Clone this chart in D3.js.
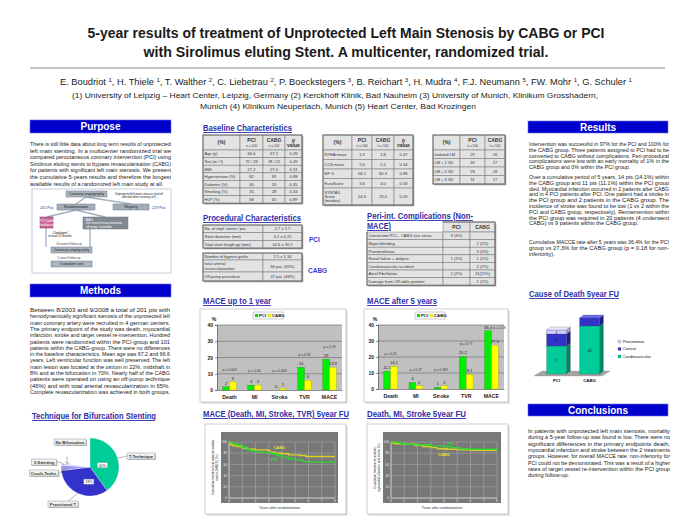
<!DOCTYPE html>
<html><head><meta charset="utf-8">
<script src="https://cdn.jsdelivr.net/npm/d3@7"></script>
<style>
html,body{margin:0;padding:0;background:#fff;}
svg{display:block;font-family:"Liberation Sans",Arial,sans-serif;}
</style></head><body>
<svg id="c" width="691" height="532"></svg>
<script>
// ---------------- DATA ----------------
const titleLines = ["5-year results of treatment of Unprotected Left Main Stenosis by CABG or PCI",
  "with Sirolimus eluting Stent.  A multicenter, randomized trial."];
const authors = [["E. Boudriot","1"],["H. Thiele","1"],["T. Walther","2"],["C. Liebetrau","2"],["P. Boeckstegers","3"],
  ["B. Reichart","3"],["H. Mudra","4"],["F.J. Neumann","5"],["FW. Mohr","1"],["G. Schuler","1"]];
const affiliations = ["(1) University of Leipzig – Heart Center, Leipzig, Germany  (2) Kerckhoff Klinik, Bad Nauheim  (3) University of Munich, Klinikum Grosshadern,",
  "Munich  (4) Klinikum Neuperlach, Munich  (5) Heart Center, Bad Krozingen"];

const purposeText = ["There is still little data about long term results of unprotected",
  "left main stenting. In a multicenter randomized trial we",
  "compared percutaneous coronary intervention (PCI) using",
  "Sirolimus eluting stents to bypass revascularisation (CABG)",
  "for patients with significant left main stenosis. We present",
  "the cumulative 5-years results and therefore the longest",
  "available results of a randomized left main study at all."];
const methodsText = ["Between 8/2003 and 9/2008 a total of 201 pts with",
  "hemodynamically significant stenosis of the unprotected left",
  "main coronary artery were recruited in 4 german centers.",
  "The primary endpoint of the study was death, myocardial",
  "infarction, stroke and target vessel re-intervention. Hundred",
  "patients were randomized within the PCI-group and 101",
  "patients within the CABG-group. There were no differences",
  "in the baseline characteristics. Mean age was 67.2 and 66.6",
  "years. Left ventricular function was well preserved. The left",
  "main lesion was located at the ostium in 22%, midshaft in",
  "8% and at the bifurcation in 70%. Nearly half of the CABG",
  "patients were operated on using an off-pump technique",
  "(46%) and with total arterial revascularization in 65%.",
  "Complete revascularization was achieved in both groups."];
const resultsText1 = ["Intervention was successful in 97% for the PCI and 100% for",
  "the CABG group. Three patients assigned to PCI had to be",
  "converted to CABG without complications.  Peri-procedural",
  "complications were low with an early mortality of 1% in the",
  "CABG group and 0% within the PCI group."];
const resultsText2 = ["Over a cumulative period of 5 years, 14 pts (14.1%) within",
  "the CABG group and 11 pts (11.1%) within the PCI group",
  "died. Myocardial infarction occurred in 2 patients after CABG",
  "and in 4 PCI patients after PCI. One patient had a stroke in",
  "the PCI group and 2 patients in the CABG group. The",
  "incidence of stroke was found to be low (1 vs 2 within the",
  "PCI and CABG group, respectively). Reintervention within",
  "the PCI group was required in 20 patients (4 underwent",
  "CABG) vs 9 patients within the CABG group."];
const resultsText3 = ["Cumulative MACCE rate after 5 years was 36.4% for the PCI",
  "group vs 27.3% for the CABG group (p = 0.18 for non-",
  "inferiority)."];
const conclText = ["In patients with unprotected left main stenosis, mortality",
  "during a 5-year follow-up was found is low. There were no",
  "significant differences in the  primary endpoints  death,",
  "myocardial infarction and stroke between the 2 treatments",
  "groups.  However, for overall MACCE rate, non-inferiority for",
  "PCI could not be demonstrated. This was a result of a higher",
  "rates of target vessel re-intervention  within the PCI group",
  "during follow-up."];

const baseHeader = ["(%)", ["PCI","n = 100"], ["CABG","n = 101"], ["p","value"]];
const baseRows1 = [["Age (y)","66.6","67.2","0.28"],["Sex (m / f)","72 / 28","78 / 22","0.49"],["BMI","27.2","27.0","0.31"],
  ["Hypertension (%)","82","83","0.88"],["Diabetes (%)","40","33","0.35"],["Smoking (%)","35","28","0.34"],["HLP (%)","68","65","0.89"]];
const baseRows2 = [["NYHA mean","1.9","1.8","0.47"],["CCS mean","2.6","2.4","0.34"],["EF %","58.1","60.3","0.88"],
  ["EuroScore","3.6","4.0","0.08"],[["SYNTAX-","Score","(median)"],"24.0","23.0","0.09"]];
const vesselHeader = ["(%)", ["PCI","n = 100"], ["CABG","n = 101"]];
const vesselRows = [["Isolated LM","29","26"],["LM + 1 VD","39","27"],["LM + 2 VD","28","28"],["LM + 3 VD","11","17"]];
const procPCI = [["No. of impl. stents / pat.","2.7  ±  1.7"],["Stent diameter (mm)","3.1  ± 0.25"],["Total stent length pp (mm)","42.6 ± 30.7"]];
const procCABG = [["Number of bypass grafts","2.5  ± 1.34"],[["total arterial","revascularization"],"66 pat. (65%)"],["Off pump procedure","47 pat. (46%)"]];
const periHeader = ["", "PCI", "CABG"];
const periRows = [["Conversion PCI – CABG vice versa","3 (3%)",""],["Major bleeding","","2 (2%)"],["Pneumothorax","","3 (3%)"],
  ["Renal failure + dialysis","1 (1%)","1 (1%)"],["Cerebrovascular accident","","2 (2%)"],["Atrial Fibrillation","2 (2%)","21(21%)"],
  ["Damage from OR table position","","1 (1%)"]];

const categories = ["Death","MI","Stroke","TVR","MACE"];
const seriesNames = ["PCI","CABG"];
const mace1yPCI  = [2, 3, 0, 14, 19];
const mace1yCABG = [5, 3, 1, 6, 13.9];
const mace1yP = ["p = 0.009","p = 1.00","p = 0.008","p = 0.35","p = 0.19"];
const mace5yPCI  = [11.1, 4, 1, 20.2, 36.4];
const mace5yCABG = [14.1, 2, 2, 9.1, 27.3];
const mace5yP = ["p = 0.21","p = 0.27","p = 0.365","p = 0.77","p = 0.18"];
const barTicks = [0, 10, 20, 30, 40];

const deathGroups = ["PCI","CABG"];
const deathCauses = ["Cardiovascular","Cancer","Pneumonia"];
const deathPCI  = [7, 3, 1];
const deathCABG = [12, 2, 0];

const pieLabels = ["T-Technique","Provisional T","Crush-Techn.","V-Stenting","No Bifurcation"];
const pieValues = [40, 33, 3, 1, 23];

const kmXTicks = [0,1,2,3,4,5,6,7,8];
const kmYTicks = [0,20,40,60,80,100];
const kmMaceCABG = [[0,100],[0.05,97],[0.15,95],[0.3,93],[0.6,92],[1.0,89],[1.4,87],[2.0,86],[2.9,85],[3.1,82],[3.5,80],[4.0,79],[4.5,77],[5.3,76],[5.8,74],[8,74]];
const kmMacePCI  = [[0,100],[0.2,98],[0.4,96],[0.7,94],[1.0,91],[1.3,87],[1.6,84],[2.0,82],[2.6,81],[3.2,79],[3.6,76],[4.0,73],[4.5,70],[5.0,68],[5.6,65],[6.2,64],[8,64]];
const kmDmsPCI   = [[0,100],[0.3,99],[0.7,97],[1.2,96],[2.0,95],[3.0,93],[3.8,92],[4.5,90],[5.2,88],[6.0,87],[8,87]];
const kmDmsCABG  = [[0,100],[0.1,98],[0.3,97],[1.0,96],[1.8,94],[2.4,92],[3.0,90],[3.5,88],[4.2,87],[5.0,86],[6.0,85],[8,85]];

// ---------------- HELPERS ----------------
const svg = d3.select("#c");
const HBLUE = "#0000cc", TBLUE = "#2e2ea6";
const GREEN = "#00ee00", YELLOW = "#ffff00";

function T(g, x, y, s, o = {}) {
  const t = g.append("text").attr("x", x).attr("y", y).text(s)
    .attr("font-size", o.size || 5).attr("fill", o.fill || "#111")
    .attr("text-anchor", o.anchor || "start");
  if (o.bold) t.attr("font-weight", "bold");
  if (o.w) t.attr("textLength", o.w).attr("lengthAdjust", "spacingAndGlyphs");
  if (o.deco) t.attr("text-decoration", o.deco);
  return t;
}
function para(lines, x, y0, lh, w, size) {
  const g = svg.append("g");
  const ts = lines.map((l, i) => T(g, x, y0 + i * lh, l, {size, fill: "#222"}));
  const lens = ts.map(t => t.node().getComputedTextLength());
  const full = lens.slice(0, -1);
  const r = full.length ? d3.mean(full.map(L => w / L)) : 1;
  ts.forEach((t, i) => {
    const L = i < ts.length - 1 ? w : Math.min(w, lens[i] * r);
    t.attr("textLength", L).attr("lengthAdjust", "spacingAndGlyphs");
  });
}
function header(x, y, w, h, s) {
  svg.append("rect").attr("x", x).attr("y", y).attr("width", w).attr("height", h).attr("fill", HBLUE)
    .attr("stroke", "#6a6aee").attr("stroke-width", 0.6);
  T(svg, x + w / 2, y + h / 2 + 3.6, s, {size: 10, bold: true, fill: "#fff", anchor: "middle"});
}
function secTitle(x, y, s, w) {
  T(svg, x, y, s, {size: 9, bold: true, fill: TBLUE, w, deco: "underline"});
}
function frame(x, y, w, h) {
  svg.append("rect").attr("x", x + 1.5).attr("y", y + 1.5).attr("width", w).attr("height", h).attr("fill", "#d4d4d4");
  svg.append("rect").attr("x", x).attr("y", y).attr("width", w).attr("height", h).attr("fill", "#fff")
    .attr("stroke", "#c4c4c4").attr("stroke-width", 0.8);
}
function table(x, y, colW, rowH, rows, hasHeader) {
  const g = svg.append("g");
  const tw = d3.sum(colW), th = d3.sum(rowH);
  g.append("rect").attr("x", x + 1.3).attr("y", y + 1.3).attr("width", tw).attr("height", th).attr("fill", "#a8a8a8");
  let cy = y;
  rows.forEach((r, ri) => {
    let cx = x;
    r.forEach((c, ci) => {
      g.append("rect").attr("x", cx).attr("y", cy).attr("width", colW[ci]).attr("height", rowH[ri])
        .attr("fill", "#e3e3e3").attr("stroke", "#808080").attr("stroke-width", 0.6);
      const isHead = hasHeader && ri === 0;
      const lines = (Array.isArray(c) ? c : [c]).filter(l => l !== "");
      const left = ci === 0 && !isHead;
      const tx = left ? cx + 1.5 : cx + colW[ci] / 2;
      if (isHead) {
        const sizes = lines.length > 1 && lines[0] !== "p" ? [5, 3.3] : [5, 5];
        const n = lines.length;
        lines.forEach((l, li) => T(g, tx, cy + rowH[ri] / 2 + (li - (n - 1) / 2) * 5 + 1.7, l,
          {size: sizes[li], bold: li === 0 || lines[0] === "p", anchor: "middle", fill: "#333"}));
      } else {
        const n = lines.length, lh = 4.3;
        lines.forEach((l, li) => T(g, tx, cy + rowH[ri] / 2 + (li - (n - 1) / 2) * lh + 1.5, l,
          {size: 4, anchor: left ? "start" : "middle", fill: "#333"}));
      }
      cx += colW[ci];
    });
    cy += rowH[ri];
  });
  g.append("rect").attr("x", x).attr("y", y).attr("width", tw).attr("height", th).attr("fill", "none")
    .attr("stroke", "#666").attr("stroke-width", 0.9);
  return g;
}

// ---------------- TITLE BLOCK ----------------
T(svg, 346, 38, titleLines[0], {size: 14, bold: true, anchor: "middle", w: 517, fill: "#1a1a1a"});
T(svg, 346, 57, titleLines[1], {size: 14, bold: true, anchor: "middle", w: 405, fill: "#1a1a1a"});
svg.append("line").attr("x1", 30).attr("x2", 665).attr("y1", 68).attr("y2", 68).attr("stroke", "#b0b0b0").attr("stroke-width", 1.5);
{
  const t = svg.append("text").attr("x", 346).attr("y", 85).attr("text-anchor", "middle").attr("font-size", 8.4).attr("fill", "#222");
  authors.forEach((a, i) => {
    t.append("tspan").attr("dy", i ? 3 : 0).text((i ? ", " : "") + a[0] + " ");
    t.append("tspan").text(a[1]).attr("font-size", 5.5).attr("dy", -3);
  });
  t.attr("textLength", 572).attr("lengthAdjust", "spacingAndGlyphs");
}
T(svg, 335, 98, affiliations[0], {size: 7.2, anchor: "middle", w: 526, fill: "#222"});
T(svg, 338, 109, affiliations[1], {size: 7.2, anchor: "middle", w: 276, fill: "#222"});

// ---------------- LEFT COLUMN ----------------
header(30, 120, 141, 13, "Purpose");
para(purposeText, 30, 146, 6.6, 141, 5.2);

// flowchart
{
  const fc = svg.append("g");
  fc.append("rect").attr("x", 32).attr("y", 189).attr("width", 139).attr("height", 84).attr("fill", "#fff")
    .attr("stroke", "#c6cade").attr("stroke-width", 1);
  const link = (a, b) => fc.append("line").attr("x1", a[0]).attr("y1", a[1]).attr("x2", b[0]).attr("y2", b[1])
    .attr("stroke", "#9fb0c2").attr("stroke-width", 1.3);
  link([86, 197], [76, 204]); link([86, 197], [131, 204]);
  link([76, 210], [47, 217]); link([76, 210], [105, 217]);
  link([46, 228], [46, 247]); link([90, 229], [90, 247]);
  const box = (x, y, w, h, fill, lines, col, stroke) => {
    fc.append("rect").attr("x", x).attr("y", y).attr("width", w).attr("height", h).attr("fill", fill)
      .attr("stroke", stroke || "#6f7a86").attr("stroke-width", 0.5);
    lines.forEach((l, i) => T(fc, x + (lines.length > 2 ? 1.5 : w / 2), y + h / 2 + (i - (lines.length - 1) / 2) * 3.4 + 1.3, l,
      {size: lines.length > 2 ? 2.9 : 3.6, anchor: lines.length > 2 ? "start" : "middle", fill: col || "#222"}));
  };
  box(66, 191, 41, 6, "#abb5bf", ["Coronary angiography"]);
  box(57, 204, 38, 6, "#a3adb8", ["Randomization"]);
  box(113, 204, 36, 6, "#a3adb8", ["Registry"]);
  box(40, 217, 13, 11, "#c9679b", ["PCI (with", "Sirolimus)"], "#fff", "#7a2a55");
  box(83, 217, 45, 12, "#818990", ["CABG:", "- full arterial revascularization", "- off pump, if possible"], "#fff");
  box(51, 247, 41, 6, "#abb5bf", ["Coronary angiography"]);
  box(51, 261, 41, 6, "#abb5bf", ["Outpatient visit"]);
  T(fc, 139, 194.5, "Unprotected left main stenosis (and all", {size: 2.8, anchor: "middle"});
  T(fc, 139, 197.8, "affected other coronary art.)", {size: 2.8, anchor: "middle"});
  T(fc, 47, 208.5, "201 Pat.", {size: 3.8, anchor: "middle", fill: "#3333aa"});
  T(fc, 159, 208.5, "229 Pat.", {size: 3.8, anchor: "middle", fill: "#3333aa"});
  T(fc, 60, 233.5, "Clopidogrel", {size: 2.9, anchor: "middle"});
  T(fc, 60, 237, "at least 12 months", {size: 2.9, anchor: "middle"});
  T(fc, 69, 244.5, "10 month Follow-up", {size: 2.9, anchor: "middle", fill: "#445"});
  T(fc, 69, 258.7, "5 years Follow-up", {size: 2.9, anchor: "middle", fill: "#445"});
}

header(30, 284, 141, 13, "Methods");
para(methodsText, 30, 312, 6.3, 140, 5.2);

secTitle(32, 419, "Technique for Bifurcation Stenting", 124);
{
  const g = svg.append("g").attr("transform", "translate(90,467)");
  const pie = d3.pie().sort(null).value(d => d)(pieValues);
  const arc = d3.arc().innerRadius(0).outerRadius(29);
  const pc = d3.scaleOrdinal().domain(pieLabels).range(["#00cc99", "#3333cc", "#9c9cee", "#c8c8ff", "#ffffff"]);
  g.selectAll("path").data(pie).join("path").attr("d", arc).attr("fill", (d, i) => pc(pieLabels[i]))
    .attr("stroke", (d, i) => i === 4 ? "none" : "#fff").attr("stroke-width", 0.3);
  const lead = (pts) => svg.append("polyline").attr("points", pts.map(p => p.join(",")).join(" "))
    .attr("fill", "none").attr("stroke", "#777").attr("stroke-width", 0.5);
  const mid = i => arc.centroid(pie[i]);
  const edge = (i, k) => { const a = (pie[i].startAngle + pie[i].endAngle) / 2; return [90 + Math.sin(a) * 29 * k, 467 - Math.cos(a) * 29 * k]; };
  lead([[127, 456], edge(0, 0.95)]);
  lead([[68, 501], edge(1, 0.95)]);
  lead([[57, 462], [62, 463], edge(3, 0.9)]);
  lead([[59, 473], edge(2, 0.75)]);
  const lbox = (cx, cy, w, s) => {
    svg.append("rect").attr("x", cx - w / 2 + 0.8).attr("y", cy - 3 + 0.8).attr("width", w).attr("height", 6).attr("fill", "#aaa");
    svg.append("rect").attr("x", cx - w / 2).attr("y", cy - 3).attr("width", w).attr("height", 6).attr("fill", "#f2f2f2")
      .attr("stroke", "#999").attr("stroke-width", 0.5);
    T(svg, cx, cy + 1.6, s, {size: 4.2, bold: true, anchor: "middle", fill: "#333"});
  };
  lbox(70, 442, 32, pieLabels[4]);
  lbox(44, 462, 25, pieLabels[3]);
  lbox(44, 473, 29, pieLabels[2]);
  lbox(141, 456, 28, pieLabels[0]);
  lbox(63, 504, 30, pieLabels[1]);
  const pbox = (p, s) => {
    svg.append("rect").attr("x", p[0] - 5).attr("y", p[1] - 2.5).attr("width", 10).attr("height", 5).attr("fill", "#fff")
      .attr("stroke", "#999").attr("stroke-width", 0.4);
    T(svg, p[0], p[1] + 1.4, s, {size: 3.6, anchor: "middle", fill: "#333"});
  };
  const m0 = mid(0), m1 = mid(1);
  pbox([90 + m0[0] * 0.9, 467 + m0[1] * 0.4], pieValues[0] + "%");
  pbox([90 + m1[0] * 0.2, 467 + m1[1] * 1.1], pieValues[1] + "%");
  T(svg, 64, 472.5, pieValues[2] + "%", {size: 3.6, anchor: "middle", fill: "#333"});
  T(svg, 67, 460, String(pieValues[3]), {size: 3.6, anchor: "middle", fill: "#333"});
  T(svg, 67, 464, "%", {size: 3.6, anchor: "middle", fill: "#333"});
}

// ---------------- MIDDLE COLUMN ----------------
secTitle(203, 131, "Baseline Characteristics", 89);
table(203, 135, [37, 23, 22, 17], [15, 7.6, 7.6, 7.6, 7.6, 7.6, 7.6, 7.6], [baseHeader].concat(baseRows1), true);
table(323, 135, [29, 20, 22, 19], [15, 9.5, 9.5, 9.5, 9.5, 17], [baseHeader].concat(baseRows2), true);
table(433, 135, [27, 25, 20], [15, 8.5, 8.5, 8.5, 8.5], [vesselHeader].concat(vesselRows), true);

secTitle(203, 221, "Procedural Characteristics", 98);
table(203, 225, [60, 39], [7.7, 7.7, 7.7], procPCI, false);
table(203, 253, [60, 39], [7, 12, 9], procCABG, false);
T(svg, 309, 242, "PCI", {size: 6.5, bold: true, fill: "#3b3bd0"});
T(svg, 308, 273, "CABG", {size: 6.5, bold: true, fill: "#3b3bd0"});

table(367, 222, [76, 27, 25], [10, 7.6, 7.6, 7.6, 7.6, 7.6, 7.6, 7.6], [periHeader].concat(periRows), true);
svg.append("rect").attr("x", 366).attr("y", 220).attr("width", 76.6).attr("height", 11.6).attr("fill", "#fff");
secTitle(367, 219, "Peri-int. Complications (Non-", 106);
secTitle(367, 229, "MACE)", 24);

function barChart(o) {
  frame(o.bx, o.by, o.bw, o.bh);
  const g = svg.append("g");
  const x = d3.scaleBand().domain(categories).range([o.x0, o.x1]).paddingInner(0.46).paddingOuter(0.23);
  const xs = d3.scaleBand().domain(seriesNames).range([0, x.bandwidth()]);
  const y = d3.scaleLinear().domain([0, 40]).range([o.y1, o.y0]);
  g.append("rect").attr("x", o.x0).attr("y", o.y0).attr("width", o.x1 - o.x0).attr("height", o.y1 - o.y0).attr("fill", "#c0c0c0");
  g.selectAll(".gl").data(barTicks.filter(d => d > 0)).join("line")
    .attr("x1", o.x0).attr("x2", o.x1).attr("y1", d => y(d)).attr("y2", d => y(d)).attr("stroke", "#7e7e7e").attr("stroke-width", 0.8);
  const ya = g.append("g").attr("transform", `translate(${o.x0},0)`).call(d3.axisLeft(y).tickValues(barTicks).tickSize(2).tickPadding(2));
  ya.selectAll("text").attr("font-size", 5).attr("font-weight", "bold").attr("fill", "#222").attr("font-family", "Liberation Sans, Arial");
  ya.selectAll("line, path").attr("stroke", "#444").attr("stroke-width", 0.6);
  const xa = g.append("g").attr("transform", `translate(0,${o.y1})`).call(d3.axisBottom(x).tickSize(0).tickPadding(5));
  xa.selectAll("text").attr("font-size", 5.2).attr("font-weight", "bold").attr("fill", "#222").attr("font-family", "Liberation Sans, Arial");
  xa.select("path").attr("stroke", "#444").attr("stroke-width", 0.6);
  T(g, o.x0 - 3, o.y0 - 4, "%", {size: 5, bold: true, anchor: "middle"});
  const rows = categories.map((c, i) => ({c, PCI: o.pci[i], CABG: o.cabg[i], p: o.pv[i]}));
  const col = {PCI: GREEN, CABG: YELLOW};
  seriesNames.forEach(s => {
    g.selectAll(".b" + s).data(rows).join("rect")
      .attr("x", d => x(d.c) + xs(s)).attr("width", xs.bandwidth())
      .attr("y", d => y(d[s])).attr("height", d => o.y1 - y(d[s]))
      .attr("fill", col[s]).attr("stroke", s === "PCI" ? "#1a8a1a" : "#a0a000").attr("stroke-width", 0.3);
    g.selectAll(".v" + s).data(rows).join("text")
      .attr("x", d => x(d.c) + xs(s) + xs.bandwidth() / 2).attr("y", d => y(d[s]) - 2.2)
      .attr("text-anchor", "middle").attr("font-size", 4.2).attr("fill", "#222").text(d => o.fmt(d[s]));
  });
  g.selectAll(".p").data(rows).join("text")
    .attr("x", d => { const m = Math.max(d.PCI, d.CABG); return m + 7 > 38 ? x(d.c) + xs.bandwidth() + 8 : x(d.c) + x.bandwidth() / 2; })
    .attr("y", d => { const m = Math.max(d.PCI, d.CABG); return m + 7 > 38 ? y(d.PCI) - 2.2 : y(Math.max(m + 7, 11)); })
    .attr("text-anchor", "middle").attr("font-size", 3.4).attr("fill", "#333").text(d => d.p);
  const lx = o.lx, ly = o.by + 3;
  g.append("rect").attr("x", lx - 15).attr("y", ly).attr("width", 30).attr("height", 7).attr("fill", "#fff").attr("stroke", "#999").attr("stroke-width", 0.5);
  seriesNames.forEach((s, i) => {
    g.append("rect").attr("x", lx - 13 + i * 13).attr("y", ly + 2).attr("width", 3).attr("height", 3).attr("fill", col[s]).attr("stroke", "#666").attr("stroke-width", 0.2);
    T(g, lx - 9 + i * 13, ly + 5, s, {size: 4.3, bold: true});
  });
}

secTitle(203, 304, "MACE up to 1 year", 68);
barChart({bx: 200, by: 309, bw: 146, bh: 93, x0: 217, x1: 342, y0: 325, y1: 390,
  pci: mace1yPCI, cabg: mace1yCABG, pv: mace1yP, fmt: d => String(d), lx: 268});
secTitle(367, 304, "MACE after 5 years", 70);
barChart({bx: 364, by: 309, bw: 144, bh: 93, x0: 378, x1: 504, y0: 325, y1: 389,
  pci: mace5yPCI, cabg: mace5yCABG, pv: mace5yP, fmt: d => String(d).replace(".", ","), lx: 430});

function km(o) {
  frame(o.bx, o.by, o.bw, o.bh);
  const g = svg.append("g");
  g.append("rect").attr("x", o.px0).attr("y", o.py0).attr("width", o.px1 - o.px0).attr("height", o.py1 - o.py0).attr("fill", "#787878");
  const x = d3.scaleLinear().domain([0, 8]).range([o.x0, o.x1]);
  const y = d3.scaleLinear().domain([0, 100]).range([o.y0, o.y1]);
  g.selectAll(".vg").data(kmXTicks.filter(d => d > 0)).join("line")
    .attr("x1", d => x(d)).attr("x2", d => x(d)).attr("y1", y(0)).attr("y2", y(100)).attr("stroke", "#b4b4b4").attr("stroke-width", 0.5);
  g.selectAll(".hg").data(kmYTicks.filter(d => d > 0)).join("line")
    .attr("x1", x(0)).attr("x2", x(8)).attr("y1", d => y(d)).attr("y2", d => y(d)).attr("stroke", "#a8a8a8").attr("stroke-width", 0.5);
  g.append("line").attr("x1", x(0)).attr("x2", x(8)).attr("y1", y(0)).attr("y2", y(0)).attr("stroke", "#e8e8e8").attr("stroke-width", 0.8);
  g.append("line").attr("x1", x(0)).attr("x2", x(0)).attr("y1", y(0)).attr("y2", y(100)).attr("stroke", "#e8e8e8").attr("stroke-width", 0.8);
  g.selectAll(".xt").data(kmXTicks).join("text").attr("x", d => x(d)).attr("y", y(0) + 4)
    .attr("text-anchor", "middle").attr("font-size", 3.2).attr("fill", "#eee").text(d => d);
  g.selectAll(".yt").data(kmYTicks).join("text").attr("x", x(0) - 2).attr("y", d => y(d) + 1.1)
    .attr("text-anchor", "end").attr("font-size", 3.2).attr("fill", "#eee").text(d => d);
  const line = d3.line().x(d => x(d[0])).y(d => y(d[1])).curve(d3.curveStepAfter);
  g.append("path").attr("d", line(o.cabg)).attr("fill", "none").attr("stroke", "#d8d028").attr("stroke-width", 1.4);
  g.append("path").attr("d", line(o.pci)).attr("fill", "none").attr("stroke", "#2ed82e").attr("stroke-width", 1.4);
  T(g, x(o.cl[0]), y(o.cl[1]), "CABG", {size: 4, bold: true, fill: "#e6e030", anchor: "middle"});
  T(g, x(o.pl[0]), y(o.pl[1]), "PCI", {size: 4, bold: true, fill: "#33e033", anchor: "middle"});
  T(g, (o.px0 + o.px1) / 2, o.py1 + 5.5, "Years after randomization", {size: 3.6, anchor: "middle", fill: "#333"});
  const yt = g.append("g").attr("transform", `translate(${o.px0 - 7},${(o.py0 + o.py1) / 2}) rotate(-90)`);
  T(yt, 0, 0, o.yl[0], {size: 3, anchor: "middle", fill: "#333"});
  T(yt, 0, 3.6, o.yl[1], {size: 3, anchor: "middle", fill: "#333"});
}

secTitle(203, 417, "MACE (Death, MI, Stroke, TVR) 5year FU", 146);
km({bx: 205, by: 424, bw: 141, bh: 90, px0: 221, px1: 338, py0: 432, py1: 503, x0: 229, x1: 335, y0: 498, y1: 442,
  cabg: kmMaceCABG, pci: kmMacePCI, cl: [3.8, 88], pl: [3.4, 66],
  yl: ["Cumulative freedom from adverse cardiac", "events (MACE) (%)"]});
secTitle(367, 417, "Death, MI, Stroke  5year FU", 99);
km({bx: 367, by: 424, bw: 141, bh: 90, px0: 383, px1: 501, py0: 432, py1: 503, x0: 391, x1: 497, y0: 498, y1: 442,
  cabg: kmDmsCABG, pci: kmDmsPCI, cl: [4.0, 75], pl: [4.5, 95],
  yl: ["Cumulative freedom from death,", "myocardial infarction and stroke (%)"]});

// ---------------- RIGHT COLUMN ----------------
header(528, 121, 140, 12, "Results");
para(resultsText1, 529, 146, 5.8, 140, 5);
para(resultsText2, 529, 179, 5.8, 140, 5);
para(resultsText3, 529, 244, 5.8, 140, 5);

secTitle(529, 297, "Cause of Death 5year FU", 90);
{
  const g = svg.append("g");
  const x = d3.scaleBand().domain(deathGroups).range([540, 606]).paddingInner(0.4).paddingOuter(0.2);
  const y = d3.scaleLinear().domain([0, 14]).range([374, 318]);
  const dx = 4, dy = -3;
  g.append("polygon").attr("points", [[534, 376], [602, 376], [610, 371], [542, 371]].map(p => p.join(",")).join(" "))
    .attr("fill", "#a4a4a4").attr("stroke", "#888").attr("stroke-width", 0.3);
  const front = ["#00cc99", "#3333cc", "#ccccff"], side = ["#008866", "#1c1c88", "#9898cc"], top = ["#5fe8bd", "#6a6aee", "#e6e6ff"];
  const sets = {PCI: deathPCI, CABG: deathCABG};
  deathGroups.forEach(gr => {
    const vals = sets[gr];
    const x0 = x(gr), x1 = x0 + x.bandwidth();
    let acc = 0;
    const total = d3.sum(vals);
    vals.forEach((v, i) => {
      if (!v) return;
      const yb = y(acc), yt = y(acc + v);
      g.append("polygon").attr("points", [[x1, yt], [x1 + dx, yt + dy], [x1 + dx, yb + dy], [x1, yb]].map(p => p.join(",")).join(" "))
        .attr("fill", side[i]).attr("stroke", "#333").attr("stroke-width", 0.2);
      g.append("rect").attr("x", x0).attr("y", yt).attr("width", x.bandwidth()).attr("height", yb - yt)
        .attr("fill", front[i]).attr("stroke", "#333").attr("stroke-width", 0.2);
      T(g, (x0 + x1) / 2, (yt + yb) / 2 + 1.5, String(v), {size: 4.2, anchor: "middle", fill: "#222"});
      acc += v;
      if (acc === total) {
        g.append("polygon").attr("points", [[x0, yt], [x0 + dx, yt + dy], [x1 + dx, yt + dy], [x1, yt]].map(p => p.join(",")).join(" "))
          .attr("fill", top[i]).attr("stroke", "#333").attr("stroke-width", 0.2);
      }
    });
    T(g, x0 + x.bandwidth() / 2, 382, gr, {size: 4.3, bold: true, anchor: "middle"});
  });
  const leg = deathCauses.slice().reverse();
  leg.forEach((c, i) => {
    const ci = deathCauses.indexOf(c);
    g.append("rect").attr("x", 618).attr("y", 340 + i * 7.5).attr("width", 3).attr("height", 3).attr("fill", front[ci]).attr("stroke", "#555").attr("stroke-width", 0.2);
    T(g, 623, 342.8 + i * 7.5, c, {size: 4.2});
  });
}

header(528, 404, 140, 12, "Conclusions");
para(conclText, 528, 433, 6.3, 142, 5.2);
</script>
</body></html>
